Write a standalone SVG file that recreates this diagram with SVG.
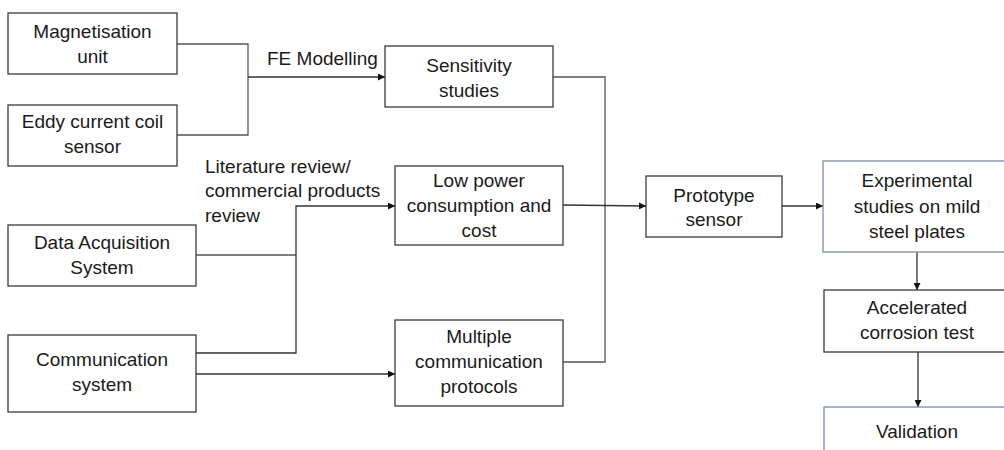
<svg xmlns="http://www.w3.org/2000/svg" width="1004" height="450" viewBox="0 0 1004 450">
<style>
  .box { fill: #ffffff; stroke: #3a3a3a; stroke-width: 1.3; }
  .bbox { fill: #ffffff; stroke: #7a8ca3; stroke-width: 1.3; }
  .line { fill: none; stroke: #555555; stroke-width: 1.3; }
  .arr { fill: none; stroke: #333333; stroke-width: 1.3; marker-end: url(#ah); }
  text { font-family: "Liberation Sans", Arial, sans-serif; font-size: 19px; fill: #1a1a1a; }
  .c { text-anchor: middle; }
</style>
<defs>
  <marker id="ah" viewBox="0 0 10 10" refX="10" refY="5" markerWidth="7" markerHeight="7" markerUnits="userSpaceOnUse" orient="auto">
    <path d="M0,0 L10,5 L0,10 z" fill="#111111"/>
  </marker>
</defs>
<rect width="1004" height="450" fill="#ffffff"/>

<g id="connectors">
  <polyline class="line" points="177,44 248,44 248,135 177,135"/>
  <line class="arr" x1="248" y1="77" x2="385" y2="77"/>
  <polyline class="line" points="196,255 296,255"/>
  <polyline class="arr" points="196,353 296,353 296,206 395,206"/>
  <line class="arr" x1="196" y1="374" x2="395" y2="374"/>
  <polyline class="line" points="553,77 605,77 605,362 563,362"/>
  <line class="arr" x1="563" y1="205" x2="646" y2="206"/>
  <line class="arr" x1="782" y1="206" x2="823" y2="206"/>
  <line class="arr" x1="917" y1="252" x2="917" y2="290"/>
  <line class="arr" x1="918" y1="352" x2="918" y2="407"/>
  <text x="267" y="65">FE Modelling</text>
  <text x="205" y="173">Literature review/</text>
  <text x="205" y="197">commercial products</text>
  <text x="205" y="222">review</text>
</g>

<g id="magnetisation">
  <rect class="box" x="8" y="13" width="169" height="61"/>
  <text class="c" x="92.5" y="38">Magnetisation</text>
  <text class="c" x="92.5" y="63">unit</text>
</g>
<g id="eddy">
  <rect class="box" x="8" y="105" width="169" height="61"/>
  <text class="c" x="92.5" y="128">Eddy current coil</text>
  <text class="c" x="92.5" y="153">sensor</text>
</g>
<g id="daq">
  <rect class="box" x="8" y="225" width="188" height="61"/>
  <text class="c" x="102" y="249">Data Acquisition</text>
  <text class="c" x="102" y="274">System</text>
</g>
<g id="comm">
  <rect class="box" x="8" y="335" width="188" height="77"/>
  <text class="c" x="102" y="366">Communication</text>
  <text class="c" x="102" y="391">system</text>
</g>
<g id="sensitivity">
  <rect class="box" x="385" y="46" width="168" height="61"/>
  <text class="c" x="469" y="72">Sensitivity</text>
  <text class="c" x="469" y="97">studies</text>
</g>
<g id="lowpower">
  <rect class="box" x="395" y="166" width="168" height="79"/>
  <text class="c" x="479" y="187">Low power</text>
  <text class="c" x="479" y="212">consumption and</text>
  <text class="c" x="479" y="237">cost</text>
</g>
<g id="multiple">
  <rect class="box" x="395" y="320" width="168" height="86"/>
  <text class="c" x="479" y="343">Multiple</text>
  <text class="c" x="479" y="368">communication</text>
  <text class="c" x="479" y="393">protocols</text>
</g>
<g id="prototype">
  <rect class="box" x="646" y="176" width="136" height="61"/>
  <text class="c" x="714" y="202">Prototype</text>
  <text class="c" x="714" y="226">sensor</text>
</g>
<g id="experimental">
  <rect class="bbox" x="823" y="161" width="200" height="91"/>
  <text class="c" x="917" y="187">Experimental</text>
  <text class="c" x="917" y="213">studies on mild</text>
  <text class="c" x="917" y="238">steel plates</text>
</g>
<g id="accelerated">
  <rect class="box" x="824" y="290" width="200" height="62"/>
  <text class="c" x="917" y="314">Accelerated</text>
  <text class="c" x="917" y="339">corrosion test</text>
</g>
<g id="validation">
  <rect class="bbox" x="824" y="407" width="200" height="60"/>
  <text class="c" x="917" y="438">Validation</text>
</g>
</svg>
